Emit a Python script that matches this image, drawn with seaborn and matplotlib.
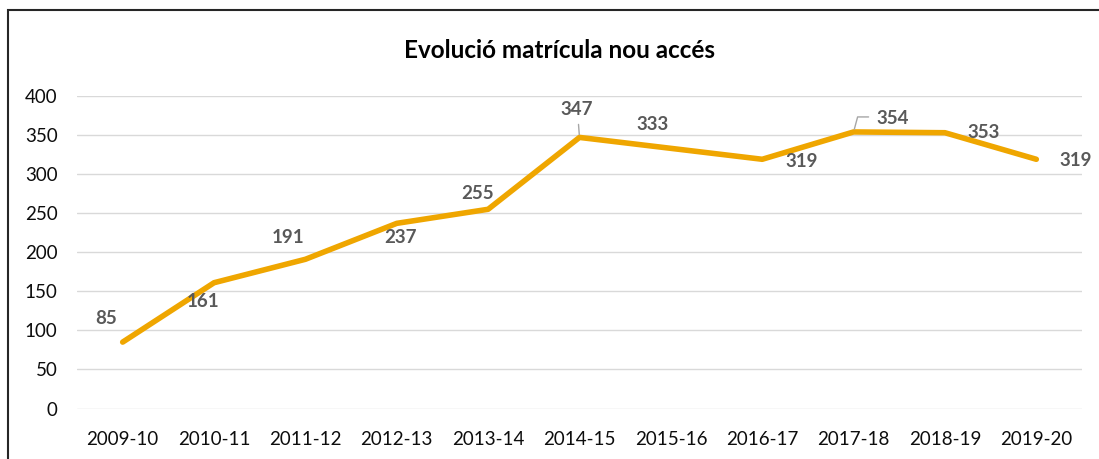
import matplotlib
matplotlib.use("Agg")
import matplotlib.pyplot as plt
import seaborn as sns
from matplotlib.patches import Rectangle

years = ["2009-10", "2010-11", "2011-12", "2012-13", "2013-14", "2014-15",
         "2015-16", "2016-17", "2017-18", "2018-19", "2019-20"]
values = [85, 161, 191, 237, 255, 347, 333, 319, 354, 353, 319]
title = "Evolució matrícula nou accés"

# label offsets in pixels (dx, dy)
offsets = [(-17, 23.5), (-11, -19), (-17, 21.5), (4, -14.5), (-11, 15.5),
           (-3, 28), (-18, 24), (39, -2), (39, 13), (39, 0), (39, -1)]

sns.set_theme(style="white")
plt.rcParams['font.family'] = ['Lato', 'DejaVu Sans']

fig = plt.figure(figsize=(10.99, 4.59), dpi=100)
ax = fig.add_axes([77/1099, 1-408.5/459, (1082-77)/1099, (408.5-96)/459])

sns.lineplot(x=years, y=values, ax=ax, color="#EFA600", linewidth=4.0,
             sort=False, solid_capstyle="round")

ax.set_ylim(0, 400)
ax.set_xlim(-0.5, len(years)-0.5)
ax.set_yticks(range(0, 401, 50))
ax.yaxis.grid(True, color="#D9D9D9", linewidth=1.0)
ax.xaxis.grid(False)
for s in ax.spines.values():
    s.set_visible(False)
ax.tick_params(axis='both', length=0, labelsize=13.5, colors="#0D0D0D")
ax.tick_params(axis='x', pad=16)
ax.tick_params(axis='y', pad=14)
ax.set_xlabel("")
ax.set_ylabel("")

for i, (v, off) in enumerate(zip(values, offsets)):
    ax.annotate(str(v), xy=(i, v), xytext=off, textcoords="offset pixels",
                ha="center", va="center", fontsize=13.5, fontweight="bold",
                color="#595959")

# leader lines
ax.annotate("", xy=(5, values[5]), xytext=(-1, 13), textcoords="offset pixels",
            arrowprops=dict(arrowstyle="-", color="#A6A6A6", lw=1,
                            shrinkA=0, shrinkB=2))
ax.annotate("", xy=(8, values[8]), xytext=(15, 15), textcoords="offset pixels",
            arrowprops=dict(arrowstyle="-", color="#A6A6A6", lw=1,
                            shrinkA=0, shrinkB=2,
                            connectionstyle="angle,angleA=0,angleB=75,rad=0"))

fig.text(560/1099, 1-50/459, title, ha="center", va="center",
         fontsize=17.5, fontweight="bold", color="#000000")

fig.patches.append(Rectangle((8/1099, -0.1), 1.2, 0.1 + (1-10/459),
                             transform=fig.transFigure, fill=False,
                             edgecolor="#262626", linewidth=1.5))

fig.savefig("out.png", dpi=100)
